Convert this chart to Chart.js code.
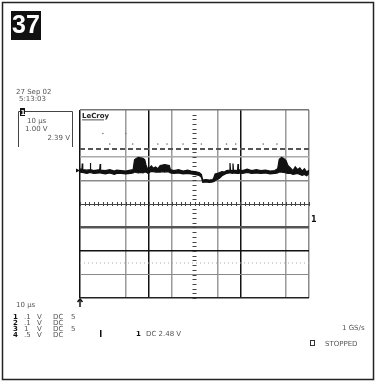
<!DOCTYPE html>
<html><head><meta charset="utf-8">
<script src="https://cdn.jsdelivr.net/npm/chart.js@4/dist/chart.umd.min.js"></script>
<style>html,body{margin:0;padding:0;background:#fff}#w{width:376px;height:382px;position:relative}</style>
</head><body><div id="w"><canvas id="c" width="376" height="382"></canvas></div>
<script>
// Time axis (µs), 10 divisions; vertical axis in divisions (8 div)
const xTicks = [0,10,20,30,40,50,60,70,80,90,100];
const yTicks = [-4,-3,-2,-1,0,1,2,3,4];
// Channel 1 trace envelope: time (µs), upper and lower level (div)
const traceTime = [0,0.8,1.0,1.2,3,4.4,4.5,4.7,6,8.6,8.8,9.0,11,13,15,16,18,20,22,23.2,23.8,24.5,25.5,26.5,27.5,28.3,28.8,29.8,30.5,31.2,32,33,34,35,36,37,38,39,39.5,41,43,45,47,48.5,50,52,53,53.6,55,56.5,58,58.5,59,60,61,62,63,64,65.3,65.5,65.7,66.6,66.8,67.0,68.8,69.0,69.2,71,73,75,77,79,81,83,85,86.3,87,88,89,90,90.8,92,93,94,95,96,97,98,99,100];
const traceHigh = [1.50,1.46,1.72,1.46,1.44,1.46,1.74,1.46,1.42,1.46,1.70,1.44,1.42,1.46,1.40,1.44,1.42,1.40,1.44,1.46,1.88,1.94,1.98,1.96,1.94,1.88,1.66,1.44,1.56,1.62,1.52,1.58,1.50,1.64,1.66,1.68,1.66,1.64,1.46,1.42,1.46,1.40,1.44,1.40,1.38,1.34,1.26,1.02,1.04,1.02,1.04,1.14,1.28,1.30,1.34,1.38,1.36,1.42,1.44,1.74,1.44,1.42,1.72,1.44,1.42,1.70,1.46,1.42,1.48,1.42,1.46,1.42,1.44,1.40,1.42,1.50,1.90,1.98,1.94,1.84,1.64,1.52,1.42,1.58,1.46,1.54,1.40,1.50,1.36,1.44];
const traceLow  = [1.36,1.34,1.34,1.34,1.30,1.34,1.34,1.34,1.30,1.32,1.32,1.32,1.28,1.32,1.26,1.30,1.30,1.28,1.30,1.32,1.36,1.34,1.32,1.34,1.32,1.36,1.36,1.30,1.36,1.38,1.38,1.36,1.36,1.36,1.38,1.36,1.38,1.36,1.32,1.30,1.32,1.28,1.30,1.28,1.26,1.22,1.14,0.92,0.94,0.92,0.94,0.96,1.00,1.04,1.10,1.20,1.26,1.30,1.32,1.32,1.32,1.30,1.30,1.32,1.30,1.30,1.32,1.30,1.34,1.30,1.32,1.30,1.32,1.28,1.30,1.32,1.36,1.36,1.34,1.32,1.30,1.30,1.26,1.28,1.30,1.26,1.22,1.26,1.20,1.30];
// Other flat traces (div)
const dashedLevel = 2.34;
const dottedLevel = -2.51;
// Sparse dots (time µs, level div)
const dotTime  = [10,20,13,23,34,38,45,53,64,68,80,86];
const dotLevel = [3.0,3.0,2.55,2.55,2.55,2.55,2.55,2.55,2.55,2.55,2.55,2.55];
// Screen texts
const dateText = ['27 Sep 02','5:13:03'];
const boxText = ['10 µs','1.00 V','2.39 V'];
const chanRows = [['1','.1','V','DC','5'],['2','.1','V','DC',''],['3','1','V','DC','5'],['4','.5','V','DC','']];
const trigText = 'DC 2.48 V';
const rateText = '1 GS/s';
const stateText = 'STOPPED';
const timebaseText = '10 µs';

const xGridColor = ['#111','rgba(0,0,0,0)','#9a9a9a','#111','#9a9a9a','rgba(0,0,0,0)','#9a9a9a','#111','rgba(0,0,0,0)','#9a9a9a','#8a8a8a'];
const yGridColor = ['#222','#8a8a8a','#111','#555','#444','#8a8a8a','#aaa','rgba(0,0,0,0)','#777'];
const yGridWidth = [1.5,1,1.5,2.5,1,1.5,1.5,1,1.5];

const F = '"DejaVu Sans", sans-serif';
const extras = {
  id:'extras',
  beforeDatasetsDraw(chart){
    const ctx=chart.ctx, xs=chart.scales.x, ys=chart.scales.y;
    ctx.save();
    ctx.strokeStyle='#444'; ctx.lineWidth=1;
    const y0=ys.getPixelForValue(0), x0=xs.getPixelForValue(50);
    for(let t=0;t<=100;t+=2){const px=Math.round(xs.getPixelForValue(t))+0.5;ctx.beginPath();ctx.moveTo(px,y0-2);ctx.lineTo(px,y0+2);ctx.stroke();}
    for(let v=-4;v<=4;v+=0.2){const py=Math.round(ys.getPixelForValue(v))+0.5;ctx.beginPath();ctx.moveTo(x0-2,py);ctx.lineTo(x0+2,py);ctx.stroke();}
    ctx.restore();
  },
  afterDraw(chart){
    const ctx=chart.ctx, xs=chart.scales.x, ys=chart.scales.y, a=chart.chartArea;
    ctx.save();
    ctx.strokeStyle='#222'; ctx.lineWidth=1.5; ctx.strokeRect(2.5,2.5,371,377);
    ctx.fillStyle='#111'; ctx.fillRect(11,11,30,29);
    ctx.fillStyle='#fff'; ctx.font='bold 25px "Liberation Sans Narrow", "Liberation Sans", sans-serif'; ctx.textBaseline='middle'; ctx.textAlign='center';
    ctx.fillText('37',26,26.5);
    ctx.textAlign='left'; ctx.textBaseline='alphabetic';
    ctx.fillStyle='#555'; ctx.font='7px '+F;
    ctx.fillText(dateText[0],16,94); ctx.fillText(dateText[1],19,101);
    ctx.strokeStyle='#444'; ctx.lineWidth=1;
    ctx.beginPath(); ctx.moveTo(18.5,147); ctx.lineTo(18.5,111.5); ctx.lineTo(72.5,111.5); ctx.lineTo(72.5,147); ctx.stroke();
    ctx.fillStyle='#111'; ctx.fillRect(20,108,5,8);
    ctx.fillStyle='#fff'; ctx.font='bold 7px '+F; ctx.fillText('1',20.5,115);
    ctx.fillStyle='#555'; ctx.font='7px '+F;
    ctx.fillText(boxText[0],27,123); ctx.fillText(boxText[1],25,131);
    ctx.textAlign='right'; ctx.fillText(boxText[2],70,140); ctx.textAlign='left';
    ctx.fillStyle='#222'; ctx.font='bold 7px '+F; ctx.fillText('LeCroy',82,118);
    ctx.fillRect(82,119.5,22,0.8);
    const yl=ys.getPixelForValue((traceHigh[0]+traceLow[0])/2);
    ctx.fillStyle='#111'; ctx.beginPath(); ctx.moveTo(a.left-4,yl-2); ctx.lineTo(a.left,yl); ctx.lineTo(a.left-4,yl+2); ctx.fill();
    ctx.font='bold 8px '+F; ctx.fillText('1',a.right+2,ys.getPixelForValue(-0.75));
    const xt=xs.getPixelForValue(0);
    ctx.strokeStyle='#111'; ctx.lineWidth=1.5;
    ctx.beginPath(); ctx.moveTo(xt,a.bottom+1); ctx.lineTo(xt,a.bottom+9); ctx.stroke();
    ctx.beginPath(); ctx.moveTo(xt-2.5,a.bottom+4); ctx.lineTo(xt,a.bottom+1); ctx.lineTo(xt+2.5,a.bottom+4); ctx.stroke();
    ctx.fillStyle='#555'; ctx.font='7px '+F;
    ctx.fillText(timebaseText,16,307);
    const rowY=[319,325,331,337];
    chanRows.forEach((r,i)=>{
      ctx.fillStyle='#111'; ctx.font='bold 7px '+F; ctx.fillText(r[0],13,rowY[i]);
      ctx.fillStyle='#555'; ctx.font='7px '+F;
      ctx.fillText(r[1],24,rowY[i]); ctx.fillText(r[2],37,rowY[i]); ctx.fillText(r[3],53,rowY[i]); ctx.fillText(r[4],71,rowY[i]);
    });
    ctx.fillStyle='#111'; ctx.fillRect(100,330,1.5,7);
    ctx.font='bold 7px '+F; ctx.fillText('1',136,336);
    ctx.fillStyle='#555'; ctx.font='7px '+F; ctx.fillText(trigText,146,336);
    ctx.fillText(rateText,342,330);
    ctx.fillText(stateText,325,346);
    ctx.strokeStyle='#333'; ctx.lineWidth=1; ctx.strokeRect(310.5,340.5,4,5);
    ctx.restore();
  }
};

new Chart(document.getElementById('c'),{
  type:'line',
  data:{datasets:[
    {label:'CH1 high',data:traceTime.map((t,i)=>({x:t,y:traceHigh[i]})),borderColor:'#111',backgroundColor:'#111',borderWidth:1.2,pointRadius:0,tension:0,fill:'+1'},
    {label:'CH1 low',data:traceTime.map((t,i)=>({x:t,y:traceLow[i]})),borderColor:'#111',borderWidth:1.2,pointRadius:0,tension:0,fill:false},
    {label:'Ref',data:[{x:0,y:dashedLevel},{x:100,y:dashedLevel}],borderColor:'#555',borderWidth:2,borderDash:[5,3],pointRadius:0,fill:false},
    {label:'CH4',data:[{x:0,y:dottedLevel},{x:100,y:dottedLevel}],borderColor:'#aaa',borderWidth:1,borderDash:[1,3],pointRadius:0,fill:false},
    {label:'Dots',data:dotTime.map((t,i)=>({x:t,y:dotLevel[i]})),showLine:false,pointRadius:0.8,pointBackgroundColor:'#777',pointBorderWidth:0,fill:false}
  ]},
  options:{
    responsive:false,animation:false,
    layout:{padding:{left:80,top:110,right:67,bottom:84}},
    plugins:{legend:{display:false},tooltip:{enabled:false},filler:{propagate:false}},
    scales:{
      x:{type:'linear',min:0,max:100,afterBuildTicks:s=>{s.ticks=xTicks.map(v=>({value:v}));},
         ticks:{display:false},border:{display:false},
         grid:{drawTicks:false,color:c=>xGridColor[c.index],lineWidth:1.5}},
      y:{type:'linear',min:-4,max:4,afterBuildTicks:s=>{s.ticks=yTicks.map(v=>({value:v}));},
         ticks:{display:false},border:{display:false},
         grid:{drawTicks:false,color:c=>yGridColor[c.index],lineWidth:c=>yGridWidth[c.index]}}
    }
  },
  plugins:[extras]
});
</script></body></html>
